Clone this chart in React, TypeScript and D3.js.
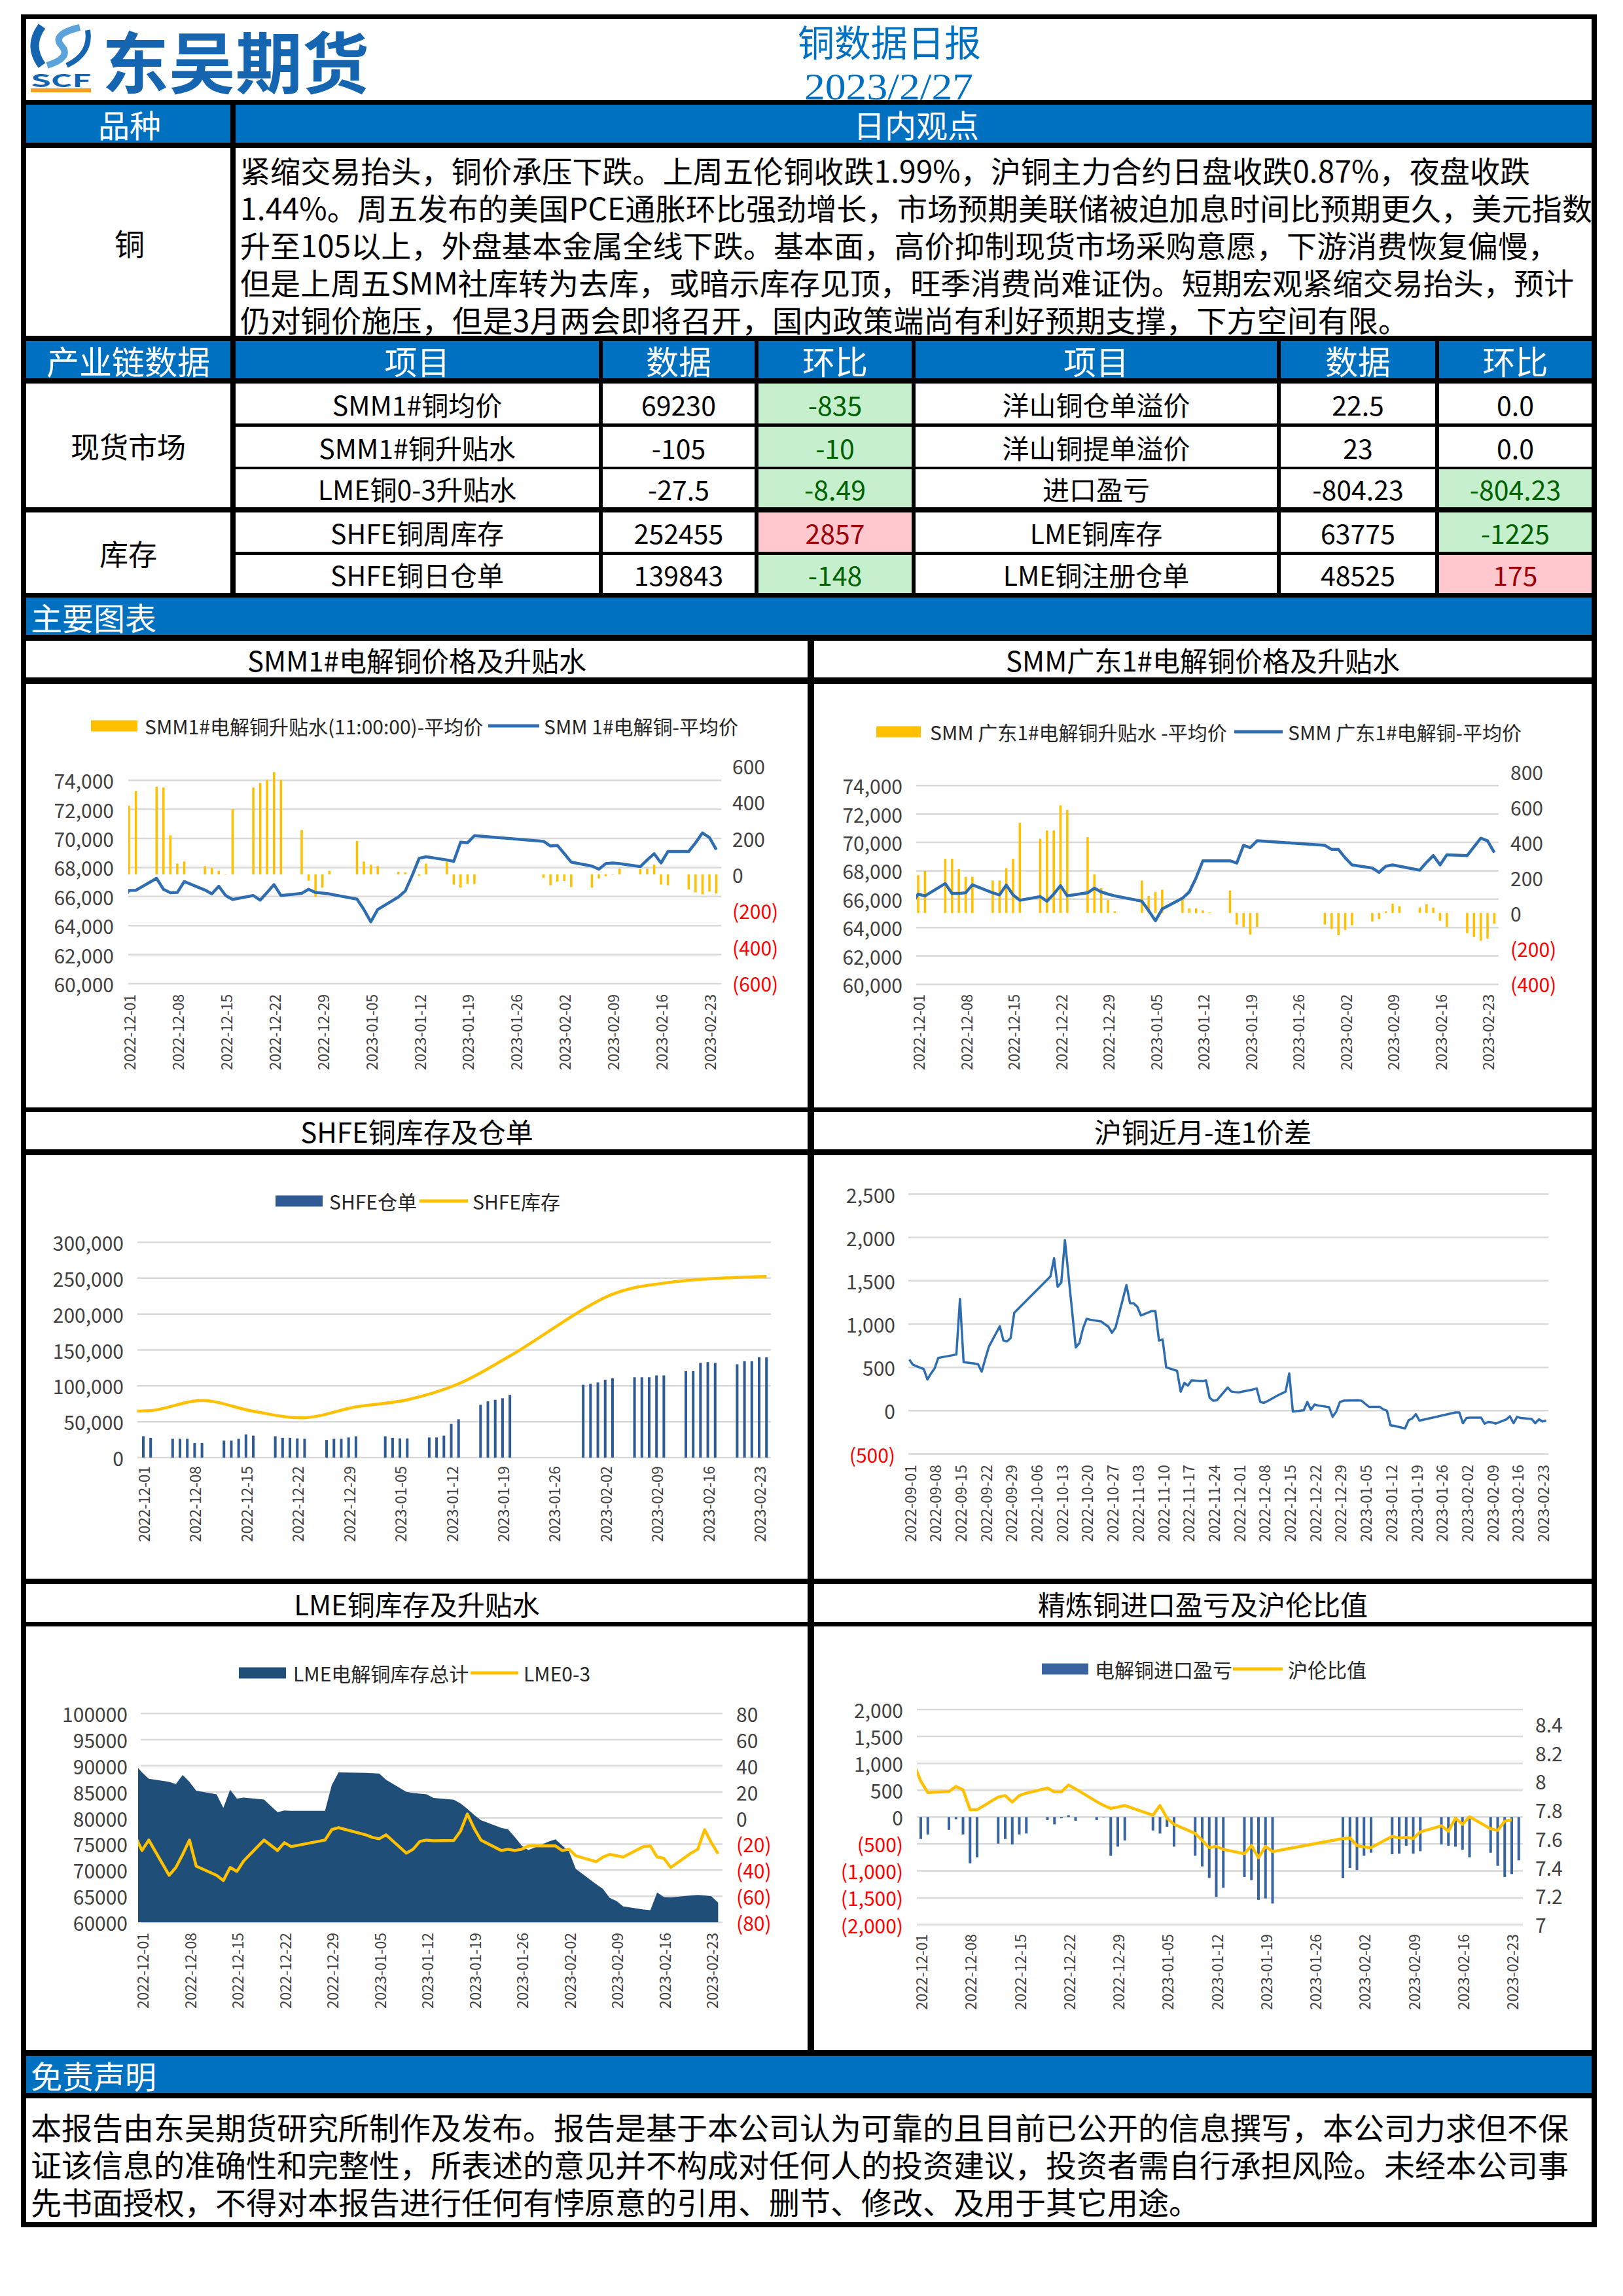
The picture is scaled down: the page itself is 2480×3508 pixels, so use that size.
import React from "react";
import * as d3 from "d3";

// ================= DATA =================
const reportTitle = "铜数据日报";
const reportDate = "2023/2/27";
const companyName = "东吴期货";

const viewLines = [
  "紧缩交易抬头，铜价承压下跌。上周五伦铜收跌1.99%，沪铜主力合约日盘收跌0.87%，夜盘收跌",
  "1.44%。周五发布的美国PCE通胀环比强劲增长，市场预期美联储被迫加息时间比预期更久，美元指数",
  "升至105以上，外盘基本金属全线下跌。基本面，高价抑制现货市场采购意愿，下游消费恢复偏慢，",
  "但是上周五SMM社库转为去库，或暗示库存见顶，旺季消费尚难证伪。短期宏观紧缩交易抬头，预计",
  "仍对铜价施压，但是3月两会即将召开，国内政策端尚有利好预期支撑，下方空间有限。",
];
const disclaimerLines = [
  "本报告由东吴期货研究所制作及发布。报告是基于本公司认为可靠的且目前已公开的信息撰写，本公司力求但不保",
  "证该信息的准确性和完整性，所表述的意见并不构成对任何人的投资建议，投资者需自行承担风险。未经本公司事",
  "先书面授权，不得对本报告进行任何有悖原意的引用、删节、修改、及用于其它用途。",
];

const tableHeaders = ["产业链数据", "项目", "数据", "环比", "项目", "数据", "环比"];
const groupNames = ["现货市场", "库存"];
const tableLeftItems = ["SMM1#铜均价", "SMM1#铜升贴水", "LME铜0-3升贴水", "SHFE铜周库存", "SHFE铜日仓单"];
const tableLeftValues = ["69230", "-105", "-27.5", "252455", "139843"];
const tableLeftChanges = ["-835", "-10", "-8.49", "2857", "-148"];
const tableRightItems = ["洋山铜仓单溢价", "洋山铜提单溢价", "进口盈亏", "LME铜库存", "LME铜注册仓单"];
const tableRightValues = ["22.5", "23", "-804.23", "63775", "48525"];
const tableRightChanges = ["0.0", "0.0", "-804.23", "-1225", "175"];

const chartTitles = [
  "SMM1#电解铜价格及升贴水",
  "SMM广东1#电解铜价格及升贴水",
  "SHFE铜库存及仓单",
  "沪铜近月-连1价差",
  "LME铜库存及升贴水",
  "精炼铜进口盈亏及沪伦比值",
];

const weeklyTicks = ["2022-12-01", "2022-12-08", "2022-12-15", "2022-12-22", "2022-12-29", "2023-01-05", "2023-01-12", "2023-01-19", "2023-01-26", "2023-02-02", "2023-02-09", "2023-02-16", "2023-02-23"];
const spreadTicks = ["2022-09-01", "2022-09-08", "2022-09-15", "2022-09-22", "2022-09-29", "2022-10-06", "2022-10-13", "2022-10-20", "2022-10-27", "2022-11-03", "2022-11-10", "2022-11-17", "2022-11-24", "2022-12-01", "2022-12-08", "2022-12-15", "2022-12-22", "2022-12-29", "2023-01-05", "2023-01-12", "2023-01-19", "2023-01-26", "2023-02-02", "2023-02-09", "2023-02-16", "2023-02-23"];

const cnDates = ["2022-11-30", "2022-12-01", "2022-12-02", "2022-12-05", "2022-12-06", "2022-12-07", "2022-12-08", "2022-12-09", "2022-12-12", "2022-12-13", "2022-12-14", "2022-12-15", "2022-12-16", "2022-12-19", "2022-12-20", "2022-12-21", "2022-12-22", "2022-12-23", "2022-12-26", "2022-12-27", "2022-12-28", "2022-12-29", "2022-12-30", "2023-01-03", "2023-01-04", "2023-01-05", "2023-01-06", "2023-01-09", "2023-01-10", "2023-01-11", "2023-01-12", "2023-01-13", "2023-01-16", "2023-01-17", "2023-01-18", "2023-01-19", "2023-01-20", "2023-01-30", "2023-01-31", "2023-02-01", "2023-02-02", "2023-02-03", "2023-02-06", "2023-02-07", "2023-02-08", "2023-02-09", "2023-02-10", "2023-02-13", "2023-02-14", "2023-02-15", "2023-02-16", "2023-02-17", "2023-02-20", "2023-02-21", "2023-02-22", "2023-02-23", "2023-02-24"];

const smm1Price = [65700, 66420, 66430, 67250, 66500, 66260, 66280, 67030, 66450, 66180, 66710, 66070, 65800, 66070, 65750, 66280, 66820, 66070, 66220, 66500, 66280, 66240, 66180, 65820, 65110, 64260, 65110, 65970, 66390, 67460, 68630, 68740, 68520, 68420, 69740, 69700, 70190, 69800, 69480, 69520, 68950, 68370, 68100, 67880, 68270, 68310, 68270, 68060, 68520, 68950, 68310, 69100, 69100, 69700, 70380, 70065, 69230];
const smm1Premium = [null, 380, 460, 485, 480, 216, 60, 71, 46, 37, 20, 0, 361, 480, 505, 522, 565, 522, 245, -35, -124, -73, 20, 185, 71, 54, 46, 15, 12, 0, -8, 60, 71, -56, -73, -53, -53, -19, -60, -39, -36, -70, -73, -22, -10, 0, 32, 29, 32, 54, -56, -60, -82, -99, -110, -95, -105];

const gdPrice = [65640, 66360, 66230, 67100, 66400, 66400, 66450, 67010, 66450, 66300, 66990, 66300, 65920, 66180, 65860, 66360, 66950, 66230, 66450, 66770, 66510, 66360, 66230, 65860, 65200, 64480, 65310, 66070, 66510, 67500, 68700, 68700, 68700, 68540, 69790, 69630, 70110, 69790, 69500, 69500, 68910, 68410, 68190, 67890, 68320, 68410, 68320, 68040, 68590, 69070, 68410, 69130, 69070, 69680, 70290, 70110, 69280];
const gdPremium = [null, 213, 236, 306, 306, 248, 204, 204, 183, 183, 253, 306, 510, 419, 466, 466, 608, 582, 428, 218, 140, 73, 9, 183, 96, 119, 131, 84, 26, 26, 14, 3, 126, -66, -79, -122, -79, -66, -91, -126, -96, -70, -49, -35, 9, 52, 38, 30, 49, 30, -44, -79, -114, -136, -157, -145, -61];

const shfeWarrant = [null, 29700, 27500, 26200, 26200, 26200, 20200, 20200, 23700, 23700, 26200, 32300, 30500, 29700, 27500, 27500, 26700, 26200, 24500, 26200, 26200, 28000, 29700, 29700, 27500, 26700, 26700, 28000, 28000, 30500, 46900, 53400, 73600, 78300, 80500, 82600, 87300, 101500, 102800, 104600, 108400, 110600, 111900, 111900, 111900, 114500, 114500, 120500, 120500, 132100, 133000, 132100, 130000, 134300, 134300, 139991, 139843];
const shfeStockDates = ["2022-11-25", "2022-12-02", "2022-12-09", "2022-12-16", "2022-12-23", "2022-12-30", "2023-01-06", "2023-01-13", "2023-01-20", "2023-02-03", "2023-02-10", "2023-02-17", "2023-02-24"];
const shfeStock = [67800, 65400, 79600, 64500, 55500, 70600, 80500, 102800, 141600, 227600, 243100, 249598, 252455];

const spreadDates = [
  "2022-09-01", "2022-09-02", "2022-09-05", "2022-09-06", "2022-09-07", "2022-09-08", "2022-09-09", "2022-09-13", "2022-09-14", "2022-09-15", "2022-09-16", "2022-09-19", "2022-09-20", "2022-09-21", "2022-09-22", "2022-09-23", "2022-09-26", "2022-09-27", "2022-09-28", "2022-09-29", "2022-09-30",
  "2022-10-10", "2022-10-11", "2022-10-12", "2022-10-13", "2022-10-14", "2022-10-17", "2022-10-18", "2022-10-19", "2022-10-20", "2022-10-21", "2022-10-24", "2022-10-25", "2022-10-26", "2022-10-27", "2022-10-28", "2022-10-31",
  "2022-11-01", "2022-11-02", "2022-11-03", "2022-11-04", "2022-11-07", "2022-11-08", "2022-11-09", "2022-11-10", "2022-11-11", "2022-11-14", "2022-11-15", "2022-11-16", "2022-11-17", "2022-11-18", "2022-11-21", "2022-11-22", "2022-11-23", "2022-11-24", "2022-11-25", "2022-11-28", "2022-11-29", "2022-11-30",
  "2022-12-01", "2022-12-02", "2022-12-05", "2022-12-06", "2022-12-07", "2022-12-08", "2022-12-09", "2022-12-12", "2022-12-13", "2022-12-14", "2022-12-15", "2022-12-16", "2022-12-19", "2022-12-20", "2022-12-21", "2022-12-22", "2022-12-23", "2022-12-26", "2022-12-27", "2022-12-28", "2022-12-29", "2022-12-30",
  "2023-01-03", "2023-01-04", "2023-01-05", "2023-01-06", "2023-01-09", "2023-01-10", "2023-01-11", "2023-01-12", "2023-01-13", "2023-01-16", "2023-01-17", "2023-01-18", "2023-01-19", "2023-01-20", "2023-01-30", "2023-01-31",
  "2023-02-01", "2023-02-02", "2023-02-03", "2023-02-06", "2023-02-07", "2023-02-08", "2023-02-09", "2023-02-10", "2023-02-13", "2023-02-14", "2023-02-15", "2023-02-16", "2023-02-17", "2023-02-20", "2023-02-21", "2023-02-22", "2023-02-23", "2023-02-24",
];
const spreadValues = [
  590, 530, 480, 360, 430, 490, 610, 640, 650, 1290, 560, 545, 535, 450, 600, 740, 975, 810, 800, 840, 1130,
  1550, 1760, 1430, 1480, 1970, 730, 780, 950, 1060, 1050, 1030, 1000, 970, 900, 960, 1450,
  1240, 1240, 1200, 1100, 1150, 1150, 810, 820, 500, 460, 220, 320, 290, 350, 340, 350, 150, 115, 120, 267, 221, 215,
  210, 220, 245, 257, 100, 90, 110, 180, 200, 220, 430, -10, 5, 100, 10, 70, 60, 40, -70, -10, 100, 115,
  120, 115, 80, 45, 45, 15, 0, -170, -175, -205, -110, -90, -40, -115, -20, -20,
  -145, -85, -80, -80, -150, -130, -135, -150, -100, -65, -145, -70, -85, -95, -145, -100, -125, -115,
];

const lmeDates = ["2022-11-30", "2022-12-01", "2022-12-02", "2022-12-05", "2022-12-06", "2022-12-07", "2022-12-08", "2022-12-09", "2022-12-12", "2022-12-13", "2022-12-14", "2022-12-15", "2022-12-16", "2022-12-19", "2022-12-20", "2022-12-21", "2022-12-22", "2022-12-23", "2022-12-28", "2022-12-29", "2022-12-30", "2023-01-03", "2023-01-04", "2023-01-05", "2023-01-06", "2023-01-09", "2023-01-10", "2023-01-11", "2023-01-12", "2023-01-13", "2023-01-16", "2023-01-17", "2023-01-18", "2023-01-19", "2023-01-20", "2023-01-23", "2023-01-24", "2023-01-25", "2023-01-26", "2023-01-27", "2023-01-30", "2023-01-31", "2023-02-01", "2023-02-02", "2023-02-03", "2023-02-06", "2023-02-07", "2023-02-08", "2023-02-09", "2023-02-10", "2023-02-13", "2023-02-14", "2023-02-15", "2023-02-16", "2023-02-17", "2023-02-20", "2023-02-21", "2023-02-22", "2023-02-23", "2023-02-24"];
const lmeStock = [90200, 88700, 87500, 86900, 86500, 88200, 86900, 85200, 84500, 81900, 85400, 83700, 83900, 83500, 82300, 81100, 81400, 81350, 81350, 86300, 88730, 88610, 88550, 88500, 87300, 85000, 84750, 84640, 84520, 83820, 83470, 82770, 81720, 80550, 79560, 78100, 77800, 76340, 74710, 73830, 75470, 75880, 74710, 73540, 70210, 67290, 66410, 64660, 64080, 63030, 62440, 62330, 65720, 64840, 64780, 65130, 65250, 65130, 65000, 63775];
const lme03 = [-14, -25, -17, -44, -38, -28, -17, -37, -44, -48, -38, -41, -33, -17, -21, -25, -19, -22, -17, -9, -7.5, -13, -15, -16, -13, -27, -24, -18, -17, -17.5, -17.3, -10, 3, -8, -17, -25, -24, -25, -24, -21.5, -21.5, -21.5, -25, -24, -29, -33.5, -30, -28, -29, -30, -22, -21.5, -30, -31, -38, -27, -24, -9, -19, -27.5];

const importPL = [null, -408, -323, -238, -40, -323, -861, -748, -493, -408, -510, -323, -306, -57, -136, -23, 34, -68, -57, 0, -720, -550, -436, -249, -306, -181, -550, -720, -918, -1133, -1485, -1315, -1116, -1173, -1541, -1513, -1609, -1133, -946, -986, -720, -663, -691, -680, -533, -680, -635, -510, -533, -550, -606, -748, -663, -907, -1116, -1060, -804.23];
const shLdRatio = [8.12, 8.0, 7.92, 7.927, 7.963, 7.94, 7.8, 7.8, 7.889, 7.899, 7.853, 7.899, 7.916, 7.952, 7.925, 7.925, 7.973, 7.946, 7.857, 7.83, 7.81, 7.819, 7.83, 7.762, 7.83, 7.741, 7.698, 7.635, 7.586, 7.535, 7.544, 7.523, 7.493, 7.55, 7.465, 7.544, 7.508, 7.599, 7.603, 7.55, 7.54, 7.535, 7.614, 7.603, 7.607, 7.599, 7.645, 7.688, 7.65, 7.741, 7.698, 7.751, 7.667, 7.656, 7.72, 7.73, null];

// ================= STYLE / LAYOUT =================
const FONT = "'Noto Sans CJK SC','Noto Sans',sans-serif";
const SERIF = "'Liberation Serif','DejaVu Serif',serif";
const BLUE = "#0070C0";
const LOGO = "#1565B0";
const YELLOW = "#FFC000";
const LINE_BLUE = "#2E6DB0";
const BAR_BLUE = "#2F5A94";
const AREA_NAVY = "#1F4E79";
const GRID = "#D9D9D9";
const TXT = "#404040";
const NEG = "#FF0000";

const parse = d3.timeParse("%Y-%m-%d");
const P = (s: string) => parse(s) as Date;
type Pt = [Date, number | null];
const pairs = (dates: string[], vals: (number | null)[]): Pt[] => dates.map((d, i) => [P(d), vals[i]]);

const fmtC = d3.format(",");
const fmtAcc = (v: number) => (v < 0 ? `(${fmtC(-v)})` : fmtC(v));
const fmtPlain = (v: number) => (v < 0 ? `(${-v})` : `${v}`);
const fmtRatio = (v: number) => `${+v.toFixed(1)}`;

function Grid({ ticks, y, x0, x1 }: any) {
  return (
    <g>
      {ticks.map((t: number) => (
        <line key={t} x1={x0} x2={x1} y1={y(t)} y2={y(t)} stroke={GRID} strokeWidth={2.5} />
      ))}
    </g>
  );
}

function YLabels({ ticks, y, x, anchor, fmt }: any) {
  return (
    <g>
      {ticks.map((t: number) => (
        <text key={t} x={x} y={y(t)} textAnchor={anchor} dominantBaseline="central" fontSize={30} fill={t < 0 ? NEG : TXT}>
          {fmt(t)}
        </text>
      ))}
    </g>
  );
}

function XLabels({ ticks, x, top, len = 116 }: any) {
  return (
    <g>
      {ticks.map((t: string) => (
        <text
          key={t}
          transform={`translate(${x(P(t))},${top}) rotate(-90)`}
          textAnchor="end"
          dominantBaseline="central"
          fontSize={23}
          fill={TXT}
          textLength={len}
          lengthAdjust="spacing"
        >
          {t}
        </text>
      ))}
    </g>
  );
}

function Legend({ items, y }: any) {
  return (
    <g>
      {items.map((it: any, i: number) => (
        <g key={i}>
          {it.kind === "rect" ? (
            <rect x={it.x0} y={y - 8.5} width={it.x1 - it.x0} height={17} fill={it.color} />
          ) : (
            <line x1={it.x0} x2={it.x1} y1={y} y2={y} stroke={it.color} strokeWidth={5} />
          )}
          <text x={it.tx} y={y} dominantBaseline="central" fontSize={30} fill="#262626">
            {it.label}
          </text>
        </g>
      ))}
    </g>
  );
}

function Bars({ data, x, y, w, color }: any) {
  return (
    <g>
      {data.map((d: Pt, i: number) => {
        if (d[1] == null) return null;
        const y0 = y(0);
        const y1 = y(d[1]);
        return <rect key={i} x={x(d[0]) - w / 2} y={Math.min(y0, y1)} width={w} height={Math.max(0.5, Math.abs(y1 - y0))} fill={color} />;
      })}
    </g>
  );
}

function linePath(data: Pt[], x: any, y: any, curve: any = d3.curveLinear) {
  return (
    d3
      .line<Pt>()
      .defined((d) => d[1] != null)
      .x((d) => x(d[0]))
      .y((d) => y(d[1] as number))
      .curve(curve)(data) || ""
  );
}

export default function App() {
  // ---------- frame cells ----------
  const W = "#FFFFFF";
  const cells: [number, number, number, number, string][] = [
    [40, 29, 2432, 153, W],
    [40, 160, 352, 218, BLUE],
    [360, 160, 2432, 218, BLUE],
    [40, 226, 352, 513, W],
    [360, 226, 2432, 513, W],
    [40, 913, 2432, 970, BLUE],
    [40, 979, 1234, 1035, W],
    [1244, 979, 2432, 1035, W],
    [40, 1045, 1234, 1692, W],
    [1244, 1045, 2432, 1692, W],
    [40, 1699, 1234, 1756, W],
    [1244, 1699, 2432, 1756, W],
    [40, 1765, 1234, 2412, W],
    [1244, 1765, 2432, 2412, W],
    [40, 2420, 1234, 2478, W],
    [1244, 2420, 2432, 2478, W],
    [40, 2485, 1234, 3132, W],
    [1244, 2485, 2432, 3132, W],
    [40, 3141, 2432, 3198, BLUE],
    [40, 3206, 2432, 3395, W],
  ];
  const colX: [number, number][] = [
    [40, 352],
    [360, 915],
    [921, 1153],
    [1159, 1393],
    [1399, 1951],
    [1957, 2193],
    [2199, 2432],
  ];
  const rowY: [number, number][] = [
    [586, 647],
    [652, 713],
    [717, 775],
    [783, 843],
    [848, 906],
  ];
  const groupY: [number, number][] = [
    [586, 775],
    [783, 906],
  ];
  const paraWidths = [1971, 2066, 2014, 2038, 1785];
  const cx = (c: [number, number]) => (c[0] + c[1]) / 2;

  const changeFill = (s: string) => (parseFloat(s) < 0 ? "#C6EFCE" : parseFloat(s) > 0 ? "#FFC7CE" : "#FFFFFF");
  const changeColor = (s: string) => (parseFloat(s) < 0 ? "#006100" : parseFloat(s) > 0 ? "#9C0006" : "#000000");

  // ---------- scales ----------
  const c1x = d3.scaleTime().domain([P("2022-12-01"), P("2023-02-23")]).range([197, 1084]);
  const c1yL = d3.scaleLinear().domain([60000, 75000]).range([1503, 1170]);
  const c1yR = d3.scaleLinear().domain([-600, 600]).range([1502, 1170]);
  const c2x = d3.scaleTime().domain([P("2022-12-01"), P("2023-02-23")]).range([1403, 2273]);
  const c2yL = d3.scaleLinear().domain([60000, 75000]).range([1504, 1178.5]);
  const c2yR = d3.scaleLinear().domain([-400, 800]).range([1503, 1178.5]);
  const c3x = d3.scaleTime().domain([P("2022-12-01"), P("2023-02-23")]).range([219, 1160]);
  const c3y = d3.scaleLinear().domain([0, 300000]).range([2227, 1898]);
  const c4x = d3.scaleTime().domain([P("2022-09-01"), P("2023-02-23")]).range([1389.5, 2357]);
  const c4y = d3.scaleLinear().domain([-500, 2500]).range([2221.5, 1824.5]);
  const c5x = d3.scaleTime().domain([P("2022-12-01"), P("2023-02-23")]).range([217, 1087]);
  const c5yL = d3.scaleLinear().domain([60000, 100000]).range([2937, 2618]);
  const c5yR = d3.scaleLinear().domain([-80, 80]).range([2937, 2618]);
  const c6x = d3.scaleTime().domain([P("2022-12-01"), P("2023-02-23")]).range([1407, 2310]);
  const c6yL = d3.scaleLinear().domain([-2000, 2000]).range([2940.5, 2612]);
  const c6yR = d3.scaleLinear().domain([7, 8.5]).range([2940, 2612]);

  const c1Price = pairs(cnDates, smm1Price);
  const c1Prem = pairs(cnDates, smm1Premium);
  const c2Price = pairs(cnDates, gdPrice);
  const c2Prem = pairs(cnDates, gdPremium);
  const c3Bars = pairs(cnDates, shfeWarrant);
  const c3Line = pairs(shfeStockDates, shfeStock);
  const c4Line = pairs(spreadDates, spreadValues);
  const c5Area = pairs(lmeDates, lmeStock);
  const c5Line = pairs(lmeDates, lme03);
  const c6Bars = pairs(cnDates, importPL);
  const c6Line = pairs(cnDates, shLdRatio);

  const areaPath =
    d3
      .area<Pt>()
      .x((d) => c5x(d[0]))
      .y0(c5yL(60000))
      .y1((d) => c5yL(d[1] as number))(c5Area) || "";

  const titleCenters: [number, number][] = [
    [637, 1007],
    [1838, 1007],
    [637, 1727],
    [1838, 1727],
    [637, 2449],
    [1838, 2449],
  ];

  return (
    <svg width={2480} height={3508} style={{ position: "absolute", left: 0, top: 0, display: "block" }} fontFamily={FONT}>
      <defs>
        <clipPath id="cp1"><rect x={196} y={1150} width={906} height={370} /></clipPath>
        <clipPath id="cp2"><rect x={1400} y={1160} width={890} height={360} /></clipPath>
        <clipPath id="cp3"><rect x={210} y={1880} width={968} height={360} /></clipPath>
        <clipPath id="cp4"><rect x={1388} y={1810} width={978} height={420} /></clipPath>
        <clipPath id="cp5"><rect x={211} y={2600} width={893} height={340} /></clipPath>
        <clipPath id="cp6"><rect x={1401} y={2600} width={926} height={345} /></clipPath>
      </defs>
      <rect x={0} y={0} width={2480} height={3508} fill="#FFFFFF" />
      <rect x={32} y={22} width={2408} height={3381} fill="#000000" />
      {cells.map((c, i) => (
        <rect key={i} x={c[0]} y={c[1]} width={c[2] - c[0]} height={c[3] - c[1]} fill={c[4]} />
      ))}

      {/* ---------- header ---------- */}
      <g>
        <path d="M64,40 Q42,70 64,100" stroke={LOGO} strokeWidth={13} fill="none" />
        <path d="M122,42 Q78,52 94,70 Q110,88 72,100" stroke="#5BA4DB" strokeWidth={10} fill="none" />
        <path d="M134,46 Q140,82 102,100" stroke={LOGO} strokeWidth={8} fill="none" />
        <text x={47} y={121} fontSize={27} fontWeight={700} fill={LOGO} textLength={92} lengthAdjust="spacingAndGlyphs" dominantBaseline="central">SCF</text>
        <rect x={47} y={135} width={92} height={6} fill="#F2A01E" />
        <text x={156} y={90} fontSize={102} fontWeight={700} fill={LOGO} dominantBaseline="central">{companyName}</text>
      </g>
      <text x={1359} y={61} textAnchor="middle" dominantBaseline="central" fontSize={56} fill={BLUE}>{reportTitle}</text>
      <text x={1358} y={132} textAnchor="middle" dominantBaseline="central" fontSize={58} fontFamily={SERIF} fill={BLUE} textLength={258} lengthAdjust="spacingAndGlyphs">{reportDate}</text>

      <text x={198} y={189} textAnchor="middle" dominantBaseline="central" fontSize={48} fill="#FFFFFF">品种</text>
      <text x={1400} y={189} textAnchor="middle" dominantBaseline="central" fontSize={48} fill="#FFFFFF">日内观点</text>

      <text x={198} y={370} textAnchor="middle" dominantBaseline="central" fontSize={46} fill="#000">铜</text>
      {viewLines.map((l, i) => (
        <text key={i} x={367} y={259 + i * 57} dominantBaseline="central" fontSize={46} fill="#000" textLength={paraWidths[i]} lengthAdjust="spacing">
          {l}
        </text>
      ))}

      {/* ---------- table ---------- */}
      {tableHeaders.map((h, i) => (
        <g key={i}>
          <rect x={colX[i][0]} y={521} width={colX[i][1] - colX[i][0]} height={57} fill={BLUE} />
          <text x={cx(colX[i])} y={550} textAnchor="middle" dominantBaseline="central" fontSize={50} fill="#FFFFFF">{h}</text>
        </g>
      ))}
      {groupNames.map((g, i) => (
        <g key={i}>
          <rect x={40} y={groupY[i][0]} width={312} height={groupY[i][1] - groupY[i][0]} fill="#FFFFFF" />
          <text x={196} y={(groupY[i][0] + groupY[i][1]) / 2} textAnchor="middle" dominantBaseline="central" fontSize={44} fill="#000">{g}</text>
        </g>
      ))}
      {rowY.map((r, i) => {
        const yc = (r[0] + r[1]) / 2;
        const vals = [
          { t: tableLeftItems[i], f: "#FFFFFF", c: "#000" },
          { t: tableLeftValues[i], f: "#FFFFFF", c: "#000" },
          { t: tableLeftChanges[i], f: changeFill(tableLeftChanges[i]), c: changeColor(tableLeftChanges[i]) },
          { t: tableRightItems[i], f: "#FFFFFF", c: "#000" },
          { t: tableRightValues[i], f: "#FFFFFF", c: "#000" },
          { t: tableRightChanges[i], f: changeFill(tableRightChanges[i]), c: changeColor(tableRightChanges[i]) },
        ];
        return (
          <g key={i}>
            {vals.map((v, j) => (
              <g key={j}>
                <rect x={colX[j + 1][0]} y={r[0]} width={colX[j + 1][1] - colX[j + 1][0]} height={r[1] - r[0]} fill={v.f} />
                <text x={cx(colX[j + 1])} y={yc} textAnchor="middle" dominantBaseline="central" fontSize={41} fill={v.c}>{v.t}</text>
              </g>
            ))}
          </g>
        );
      })}

      <text x={47} y={942} dominantBaseline="central" fontSize={48} fill="#FFFFFF">主要图表</text>

      {chartTitles.map((t, i) => (
        <text key={i} x={titleCenters[i][0]} y={titleCenters[i][1]} textAnchor="middle" dominantBaseline="central" fontSize={42} fill="#000">{t}</text>
      ))}

      {/* ---------- chart 1 ---------- */}
      <g>
        <Legend
          y={1109}
          items={[
            { kind: "rect", x0: 139, x1: 210, color: YELLOW, tx: 221, label: "SMM1#电解铜升贴水(11:00:00)-平均价" },
            { kind: "line", x0: 746, x1: 824, color: LINE_BLUE, tx: 831, label: "SMM 1#电解铜-平均价" },
          ]}
        />
        <Grid ticks={d3.range(60000, 74001, 2000)} y={c1yL} x0={196} x1={1102} />
        <YLabels ticks={d3.range(60000, 74001, 2000)} y={c1yL} x={174} anchor="end" fmt={fmtAcc} />
        <YLabels ticks={d3.range(-600, 601, 200)} y={c1yR} x={1119} anchor="start" fmt={fmtAcc} />
        <g clipPath="url(#cp1)">
          <Bars data={c1Prem} x={c1x} y={c1yR} w={3.5} color={YELLOW} />
          <path d={linePath(c1Price, c1x, c1yL)} fill="none" stroke={LINE_BLUE} strokeWidth={4.5} strokeLinejoin="round" />
        </g>
        <XLabels ticks={weeklyTicks} x={c1x} top={1519} />
      </g>

      {/* ---------- chart 2 ---------- */}
      <g>
        <Legend
          y={1118}
          items={[
            { kind: "rect", x0: 1339, x1: 1407, color: YELLOW, tx: 1421, label: "SMM 广东1#电解铜升贴水 -平均价" },
            { kind: "line", x0: 1886, x1: 1960, color: LINE_BLUE, tx: 1968, label: "SMM 广东1#电解铜-平均价" },
          ]}
        />
        <Grid ticks={d3.range(60000, 74001, 2000)} y={c2yL} x0={1400} x1={2290} />
        <YLabels ticks={d3.range(60000, 74001, 2000)} y={c2yL} x={1379} anchor="end" fmt={fmtAcc} />
        <YLabels ticks={d3.range(-400, 801, 200)} y={c2yR} x={2308} anchor="start" fmt={fmtAcc} />
        <g clipPath="url(#cp2)">
          <Bars data={c2Prem} x={c2x} y={c2yR} w={3.5} color={YELLOW} />
          <path d={linePath(c2Price, c2x, c2yL)} fill="none" stroke={LINE_BLUE} strokeWidth={4.5} strokeLinejoin="round" />
        </g>
        <XLabels ticks={weeklyTicks} x={c2x} top={1519} />
      </g>

      {/* ---------- chart 3 ---------- */}
      <g>
        <Legend
          y={1835}
          items={[
            { kind: "rect", x0: 421, x1: 493, color: BAR_BLUE, tx: 503, label: "SHFE仓单" },
            { kind: "line", x0: 641, x1: 715, color: YELLOW, tx: 722, label: "SHFE库存" },
          ]}
        />
        <Grid ticks={d3.range(0, 300001, 50000)} y={c3y} x0={210} x1={1178} />
        <YLabels ticks={d3.range(0, 300001, 50000)} y={c3y} x={189} anchor="end" fmt={fmtAcc} />
        <g clipPath="url(#cp3)">
          <Bars data={c3Bars} x={c3x} y={c3y} w={4} color={BAR_BLUE} />
          <path d={linePath(c3Line, c3x, c3y, d3.curveCatmullRom.alpha(0.5))} fill="none" stroke={YELLOW} strokeWidth={4.5} strokeLinejoin="round" />
        </g>
        <XLabels ticks={weeklyTicks} x={c3x} top={2240} />
      </g>

      {/* ---------- chart 4 ---------- */}
      <g>
        <Grid ticks={d3.range(-500, 2501, 500)} y={c4y} x0={1388} x1={2366} />
        <YLabels ticks={d3.range(-500, 2501, 500)} y={c4y} x={1368} anchor="end" fmt={fmtAcc} />
        <g clipPath="url(#cp4)">
          <path d={linePath(c4Line, c4x, c4y)} fill="none" stroke={LINE_BLUE} strokeWidth={3.5} strokeLinejoin="round" />
        </g>
        <XLabels ticks={spreadTicks} x={c4x} top={2238} len={118} />
      </g>

      {/* ---------- chart 5 ---------- */}
      <g>
        <Legend
          y={2556}
          items={[
            { kind: "rect", x0: 365, x1: 437, color: AREA_NAVY, tx: 448, label: "LME电解铜库存总计" },
            { kind: "line", x0: 719, x1: 792, color: YELLOW, tx: 800, label: "LME0-3" },
          ]}
        />
        <Grid ticks={d3.range(60000, 100001, 5000)} y={c5yL} x0={215} x1={1104} />
        <YLabels ticks={d3.range(60000, 100001, 5000)} y={c5yL} x={195} anchor="end" fmt={fmtPlain} />
        <YLabels ticks={d3.range(-80, 81, 20)} y={c5yR} x={1125} anchor="start" fmt={fmtPlain} />
        <g clipPath="url(#cp5)">
          <path d={areaPath} fill={AREA_NAVY} />
          <path d={linePath(c5Line, c5x, c5yR)} fill="none" stroke={YELLOW} strokeWidth={4.5} strokeLinejoin="round" />
        </g>
        <XLabels ticks={weeklyTicks} x={c5x} top={2953} />
      </g>

      {/* ---------- chart 6 ---------- */}
      <g>
        <Legend
          y={2550}
          items={[
            { kind: "rect", x0: 1592, x1: 1663, color: "#3A64A0", tx: 1673, label: "电解铜进口盈亏" },
            { kind: "line", x0: 1884, x1: 1960, color: YELLOW, tx: 1968, label: "沪伦比值" },
          ]}
        />
        <Grid ticks={d3.range(-2000, 2001, 500)} y={c6yL} x0={1401} x1={2327} />
        <YLabels ticks={d3.range(-2000, 2001, 500)} y={c6yL} x={1380} anchor="end" fmt={fmtAcc} />
        <YLabels ticks={d3.range(0, 8).map((i) => 7 + i * 0.2)} y={c6yR} x={2346} anchor="start" fmt={fmtRatio} />
        <g clipPath="url(#cp6)">
          <Bars data={c6Bars} x={c6x} y={c6yL} w={4} color="#3A64A0" />
          <path d={linePath(c6Line, c6x, c6yR)} fill="none" stroke={YELLOW} strokeWidth={4.5} strokeLinejoin="round" />
        </g>
        <XLabels ticks={weeklyTicks} x={c6x} top={2955} />
      </g>

      {/* ---------- disclaimer ---------- */}
      <text x={47} y={3170} dominantBaseline="central" fontSize={48} fill="#FFFFFF">免责声明</text>
      {disclaimerLines.map((l, i) => (
        <text key={i} x={47} y={3248 + i * 57} dominantBaseline="central" fontSize={47} fill="#000" {...(i < 2 ? { textLength: 2350, lengthAdjust: "spacing" } : {})}>
          {l}
        </text>
      ))}
    </svg>
  );
}
